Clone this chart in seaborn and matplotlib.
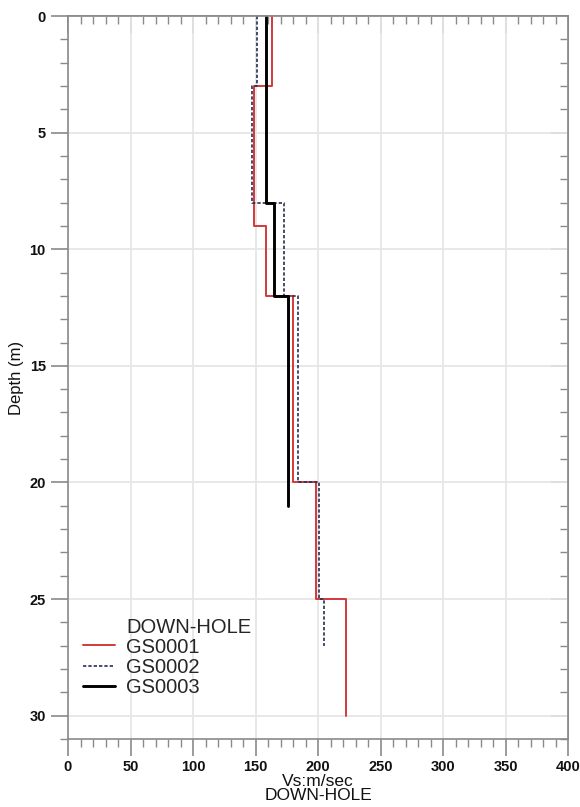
import numpy as np
import pandas as pd
import matplotlib
matplotlib.use("Agg")
import matplotlib.pyplot as plt
from matplotlib.lines import Line2D
from matplotlib.ticker import MultipleLocator
import seaborn as sns

# Layer boundaries (m) and shear-wave velocity per layer (m/s)
gs1_depths = [0, 3, 9, 12, 20, 25, 30]
gs1_vs = [163, 149, 158, 180, 198, 222]
gs2_depths = [0, 3, 8, 12, 20, 25, 27]
gs2_vs = [151, 147.5, 173, 184, 201, 205]
gs3_depths = [0, 8, 12, 21]
gs3_vs = [158, 165, 176]

names = ["GS0001", "GS0002", "GS0003"]
x_ticks = [0, 50, 100, 150, 200, 250, 300, 350, 400]
y_ticks = [0, 5, 10, 15, 20, 25, 30]
legend_title = "DOWN-HOLE"


def step_profile(depths, vs, name):
    rows = []
    for i, v in enumerate(vs):
        rows.append((v, depths[i], name))
        rows.append((v, depths[i + 1], name))
    return pd.DataFrame(rows, columns=["Vs", "Depth", "Hole"])


df = pd.concat([
    step_profile(gs1_depths, gs1_vs, names[0]),
    step_profile(gs2_depths, gs2_vs, names[1]),
    step_profile(gs3_depths, gs3_vs, names[2]),
], ignore_index=True)

sns.set_theme(style="white")
plt.rcParams["font.family"] = ["Liberation Sans", "DejaVu Sans"]

fig = plt.figure(figsize=(5.8, 8.07), dpi=100)
ax = fig.add_axes([68 / 580, 1 - 739 / 807, 500 / 580, 723 / 807])

styles = {
    "GS0001": dict(color="#d23a3a", lw=1.4, ls="-"),
    "GS0002": dict(color="#2a2f55", lw=1.2, ls=(0, (2.0, 1.2))),
    "GS0003": dict(color="#000000", lw=2.1, ls="-"),
}
for name in names:
    sub = df[df["Hole"] == name]
    st = styles[name]
    sns.lineplot(data=sub, x="Vs", y="Depth", sort=False, estimator=None,
                 ax=ax, color=st["color"], linewidth=st["lw"],
                 linestyle=st["ls"], label=name)

ax.set_xlim(0, 400)
ax.set_ylim(31, 0)
ax.set_xticks(x_ticks)
ax.set_yticks(y_ticks)
ax.xaxis.set_minor_locator(MultipleLocator(10))
ax.yaxis.set_minor_locator(MultipleLocator(1))

ax.grid(True, which="major", color="#e6e6e6", linewidth=1.3)
ax.set_axisbelow(True)

spine_c = "#8a8a8a"
for s in ax.spines.values():
    s.set_visible(True)
    s.set_color(spine_c)
    s.set_linewidth(1.2)

ax.tick_params(axis="both", which="major", length=12, width=1.2, color=spine_c,
               labelsize=10.5, labelcolor="#111111")
ax.tick_params(axis="both", which="minor", length=6, width=1.0, color=spine_c)
ax.tick_params(axis="x", which="both", direction="out", bottom=True, top=False, pad=3)
ax.tick_params(axis="y", which="both", direction="out", left=True, right=False, pad=4)

# inward ticks on top and right edges
axt = ax.secondary_xaxis("top")
axt.set_xticks(x_ticks)
axt.xaxis.set_minor_locator(MultipleLocator(10))
axt.tick_params(which="major", direction="in", length=12, width=1.2, color=spine_c, labeltop=False)
axt.tick_params(which="minor", direction="in", length=6, width=1.0, color=spine_c)
axt.spines["top"].set_color(spine_c)
axr = ax.secondary_yaxis("right")
axr.set_yticks(y_ticks)
axr.yaxis.set_minor_locator(MultipleLocator(1))
axr.tick_params(which="major", direction="in", length=12, width=1.2, color=spine_c, labelright=False)
axr.tick_params(which="minor", direction="in", length=6, width=1.0, color=spine_c)
axr.spines["right"].set_color(spine_c)

for lab in ax.get_xticklabels() + ax.get_yticklabels():
    lab.set_fontweight("bold")

ax.set_xlabel("Vs:m/sec\nDOWN-HOLE", fontsize=12.5, color="#111111", labelpad=0,
              linespacing=0.95)
ax.set_ylabel("Depth (m)", fontsize=12, color="#111111", labelpad=4)

# legend heading sits in the text column, above the three entries
handles, labels = ax.get_legend_handles_labels()
blank = Line2D([], [], color="none")
leg = ax.legend([blank] + handles, [legend_title] + labels,
                loc="upper left", bbox_to_anchor=(0.03, 0.168),
                frameon=False, fontsize=14.5, handlelength=1.6,
                handletextpad=0.55, labelspacing=0.05, borderaxespad=0, borderpad=0)

fig.savefig("out.png", dpi=100)
